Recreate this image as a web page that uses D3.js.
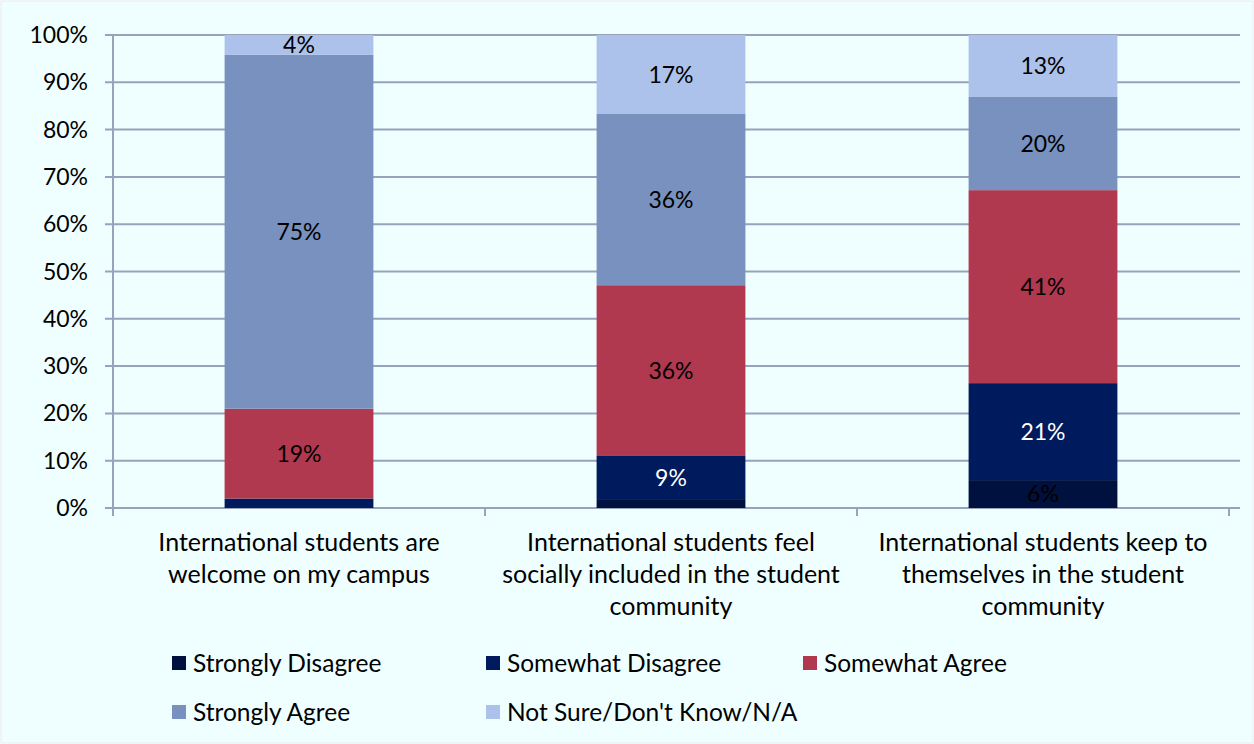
<!DOCTYPE html>
<html><head><meta charset="utf-8">
<script src="https://cdn.jsdelivr.net/npm/d3@7"></script>
<style>body{margin:0;background:#fff}svg{display:block}</style>
</head><body>
<script>
const categories = [
  ["International students are", "welcome on my campus"],
  ["International students feel", "socially included in the student", "community"],
  ["International students keep to", "themselves in the student", "community"]
];
const seriesNames = ["Strongly Disagree","Somewhat Disagree","Somewhat Agree","Strongly Agree","Not Sure/Don't Know/N/A"];
const stronglyDisagree = [0, 1.7, 5.9];
const somewhatDisagree = [2.0, 9.3, 20.5];
const somewhatAgree = [19.0, 36.1, 40.8];
const stronglyAgree = [74.8, 36.2, 19.7];
const notSure = [4.2, 16.7, 13.1];
const yTicks = [0,10,20,30,40,50,60,70,80,90,100];
const colors = ["#00113f","#001a5e","#b0384f","#7891bf","#adc2ea"];
const labelColors = ["#000","#fff","#000","#000","#000"];

(function(){
const W=1254,H=744;
const svg=d3.select("body").append("svg").attr("width",W).attr("height",H);
svg.append("rect").attr("x",1).attr("y",1).attr("width",W-2).attr("height",H-2).attr("fill","#efffff").attr("stroke","#e4ecec");
const font="Lato, 'Open Sans', sans-serif";
const pl=113,pr=1229,pt=35,pb=508;
const x=d3.scaleBand().domain(d3.range(categories.length)).range([pl,pr]).paddingInner(0).paddingOuter(0);
const y=d3.scaleLinear().domain([0,100]).range([pb,pt]);
const series=[stronglyDisagree,somewhatDisagree,somewhatAgree,stronglyAgree,notSure];

svg.append("g").selectAll("line").data(yTicks).join("line")
  .attr("x1",pl-8).attr("x2",1240).attr("y1",d=>y(d)).attr("y2",d=>y(d))
  .attr("stroke","#97a3bb").attr("stroke-width",2);
svg.append("line").attr("x1",pl).attr("x2",pl).attr("y1",pt).attr("y2",pb).attr("stroke","#97a3bb").attr("stroke-width",2);
svg.append("g").selectAll("line").data(d3.range(categories.length+1)).join("line")
  .attr("x1",d=>pl+d*x.bandwidth()).attr("x2",d=>pl+d*x.bandwidth())
  .attr("y1",pb).attr("y2",pb+8).attr("stroke","#97a3bb").attr("stroke-width",2);
svg.append("g").selectAll("text").data(yTicks).join("text")
  .attr("x",pl-25).attr("y",d=>y(d)).attr("dy","0.35em").attr("text-anchor","end")
  .attr("font-family",font).attr("font-size",23).attr("fill","#000").text(d=>d+"%");

const bw=x.bandwidth()*0.4;
categories.forEach((c,i)=>{
  let acc=0;
  const cx=x(i)+x.bandwidth()/2;
  series.forEach((s,k)=>{
    const v=s[i]; const y0=acc, y1=acc+v; acc=y1;
    if(v<=0) return;
    svg.append("rect").attr("x",cx-bw/2).attr("width",bw).attr("y",y(y1)).attr("height",y(y0)-y(y1)).attr("fill",colors[k]);
    if(v>=3){
      svg.append("text").attr("x",cx).attr("y",(y(y0)+y(y1))/2).attr("dy","0.35em").attr("text-anchor","middle")
        .attr("font-family",font).attr("font-size",23).attr("fill",labelColors[k]).text(Math.round(v)+"%");
    }
  });
  const t=svg.append("text").attr("text-anchor","middle").attr("font-family",font).attr("font-size",25).attr("fill","#000");
  c.forEach((line,j)=>t.append("tspan").attr("x",cx).attr("y",551+j*32).text(line));
});

const legPos=[[172,663],[486,663],[803,663],[172,712],[486,712]];
seriesNames.forEach((n,k)=>{
  const [lx,ly]=legPos[k];
  svg.append("rect").attr("x",lx).attr("y",ly-7).attr("width",14).attr("height",14).attr("fill",colors[k]);
  svg.append("text").attr("x",lx+21).attr("y",ly).attr("dy","0.35em").attr("font-family",font).attr("font-size",24.5).attr("fill","#000").text(n);
});
})();
</script>
</body></html>
